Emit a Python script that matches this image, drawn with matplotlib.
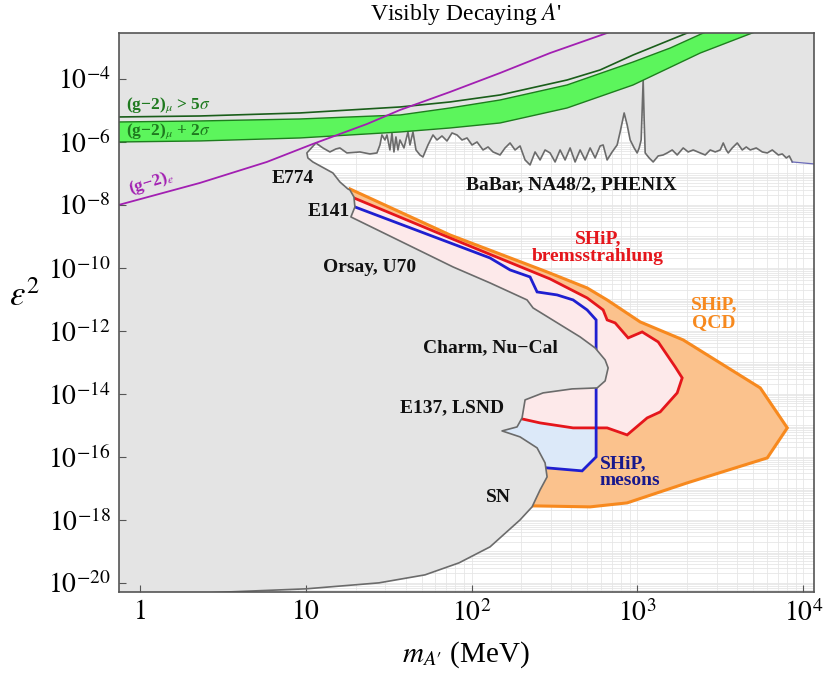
import numpy as np
import matplotlib
matplotlib.use("Agg")
import matplotlib.pyplot as plt
from matplotlib.patches import Polygon
from matplotlib.ticker import NullLocator

plt.rcParams['mathtext.fontset'] = 'stix'
plt.rcParams['font.family'] = ['Liberation Serif', 'DejaVu Serif']

# ---------------- data (log10 of m_A' [MeV] and log10 of eps^2) ----------------
# boundary of the excluded (grey) region: E774, E141, Orsay/U70, Charm/Nu-Cal, E137/LSND, SN
bound_lm = [1.0618, 1.0075, 1.0136, 1.0437, 1.1644, 1.2066, 1.2549, 1.2670, 1.2911, 1.2971,
            1.2730, 1.5686, 1.8884, 2.1116, 2.3348, 2.3710, 2.6546, 2.7451, 2.8054, 2.8235,
            2.8054, 2.7572, 2.6063, 2.4314, 2.3228, 2.3047, 2.2745, 2.1840, 2.2926, 2.3952,
            2.4434, 2.4555, 2.4133, 2.3650, 2.2926, 2.1116, 1.9246, 1.7195, 1.4419, 1.0015,
            0.5430, 0.3017]
bound_le = [-6.032, -6.349, -6.508, -6.635, -6.984, -7.270, -7.492, -7.524, -7.746, -8.063,
            -8.381, -9.143, -9.968, -10.476, -11.016, -11.270, -12.190, -12.540, -12.921, -13.175,
            -13.587, -13.810, -13.841, -13.968, -14.190, -14.762, -15.048, -15.175, -15.365, -15.714,
            -16.190, -16.635, -17.048, -17.587, -18.000, -18.857, -19.365, -19.746, -20.000, -20.190,
            -20.286, -20.349]

# BaBar, NA48/2, PHENIX limit
babar_lm = [1.0618, 1.1041, 1.1463, 1.1825, 1.2066, 1.2489, 1.3273, 1.3876, 1.4299, 1.4480,
            1.4600, 1.4781, 1.4902, 1.5083, 1.5204, 1.5324, 1.5445, 1.5566, 1.5686, 1.5928,
            1.6169, 1.6290, 1.6471, 1.6652, 1.6893, 1.7074, 1.7376, 1.7677, 1.7919, 1.8220,
            1.8522, 1.8824, 1.9125, 1.9427, 1.9729, 2.0030, 2.0332, 2.0694, 2.0996, 2.1297,
            2.1720, 2.2021, 2.2323, 2.2625, 2.2926, 2.3228, 2.3529, 2.3831, 2.4133, 2.4434,
            2.4736, 2.5038, 2.5339, 2.5641, 2.5943, 2.6244, 2.6546, 2.6848, 2.7149, 2.7451,
            2.7753, 2.7934, 2.8175, 2.8477, 2.8778, 2.8959, 2.9201, 2.9382, 2.9563, 2.9804,
            2.9985, 3.0106, 3.0226, 3.0287, 3.0347, 3.0407, 3.0468, 3.0709, 3.0950, 3.1252,
            3.1554, 3.1795, 3.2097, 3.2398, 3.2760, 3.3062, 3.3363, 3.3786, 3.4088, 3.4389,
            3.4691, 3.4993, 3.5174, 3.5355, 3.5475, 3.5716, 3.6018, 3.6320, 3.6561, 3.6802,
            3.7164, 3.7526, 3.7828, 3.8130, 3.8492, 3.8733, 3.8974, 3.9155, 3.9336]
babar_le = [-6.032, -6.190, -6.317, -6.222, -6.190, -6.349, -6.317, -6.381, -6.349, -6.095,
            -5.778, -5.937, -5.778, -6.254, -5.714, -6.317, -5.841, -6.254, -5.937, -6.190,
            -5.683, -6.095, -5.683, -6.254, -6.413, -6.476, -6.095, -5.778, -5.937, -5.810,
            -5.968, -5.714, -5.778, -5.937, -5.873, -6.095, -6.000, -6.254, -6.159, -6.317,
            -6.413, -6.190, -6.032, -6.254, -6.127, -6.571, -6.730, -6.317, -6.571, -6.254,
            -6.349, -6.635, -6.254, -6.571, -6.190, -6.635, -6.254, -6.571, -6.190, -6.508,
            -6.127, -6.095, -6.571, -6.317, -6.095, -5.683, -5.079, -5.460, -5.937, -6.190,
            -6.349, -6.190, -5.937, -4.984, -4.032, -5.302, -6.349, -6.508, -6.635, -6.444,
            -6.413, -6.349, -6.254, -6.413, -6.190, -6.317, -6.254, -6.349, -6.413, -6.254,
            -6.317, -6.254, -6.032, -6.254, -6.349, -6.190, -6.032, -6.254, -6.159, -6.254,
            -6.190, -6.317, -6.349, -6.254, -6.413, -6.381, -6.508, -6.444, -6.635]
babar_tail_lm = [3.9336, 4.0664, 4.2]
babar_tail_le = [-6.635, -6.698, -6.71]

# SHiP, QCD (orange)
qcd_lm = [1.2670, 1.8703, 2.4555, 2.6968, 2.8175, 3.0166, 3.2760, 3.7406, 3.9035, 3.7828,
          3.3002, 2.9382, 2.7149, 2.3831, 2.0513]
qcd_le = [-7.492, -8.952, -10.127, -10.635, -11.016, -11.714, -12.286, -13.810, -15.079, -16.032,
          -16.825, -17.460, -17.587, -17.556, -17.556]

# SHiP, bremsstrahlung (red)
brem_lm = [1.2911, 1.8703, 2.4736, 2.6968, 2.7934, 2.8175, 2.8658, 2.9442, 3.0287, 3.1252,
           3.2278, 3.2700, 3.2398, 3.1373, 3.0588, 2.9382, 2.8175, 2.6124, 2.4133, 2.3047, 2.0513]
brem_le = [-7.778, -9.048, -10.349, -10.952, -11.333, -11.651, -11.746, -12.222, -12.032, -12.349,
           -13.143, -13.492, -13.968, -14.571, -14.762, -15.302, -15.079, -15.079, -14.921, -14.794, -14.571]

# SHiP, mesons (blue)
mes_lm = [1.2971, 2.1116, 2.2323, 2.3529, 2.3952, 2.5159, 2.6124, 2.6968, 2.7511, 2.7511,
          2.6667, 2.4555, 2.1720]
mes_le = [-8.063, -9.683, -10.063, -10.286, -10.762, -10.857, -11.016, -11.333, -11.651, -16.000,
          -16.444, -16.349, -16.254]

# (g-2)_mu bands / lines
g2mu5_lm = [-0.20, -0.127, 0.362, 0.965, 1.569, 1.870, 2.172, 2.576, 2.775, 2.974, 3.137, 3.300, 3.46]
g2mu5_le = [-5.21, -5.206, -5.175, -5.079, -4.889, -4.730, -4.508, -4.032, -3.714, -3.238, -2.889, -2.540, -2.20]
g2mu_up_lm = [-0.20, -0.127, 0.362, 0.965, 1.569, 1.870, 2.172, 2.576, 2.974, 3.198, 3.397, 3.55]
g2mu_up_le = [-5.37, -5.365, -5.333, -5.270, -5.143, -4.921, -4.667, -4.190, -3.460, -3.016, -2.540, -2.20]
g2mu_lo_lm = [-0.20, -0.127, 0.362, 0.965, 1.569, 1.870, 2.172, 2.576, 2.974, 3.379, 3.692, 3.87]
g2mu_lo_le = [-6.01, -6.000, -5.968, -5.873, -5.683, -5.556, -5.397, -4.921, -4.190, -3.175, -2.540, -2.20]
# (g-2)_e
g2e_lm = [-0.20, -0.127, 0.362, 0.766, 1.044, 1.370, 1.569, 1.870, 2.172, 2.474, 2.817, 2.99]
g2e_le = [-8.10, -8.000, -7.302, -6.635, -6.063, -5.429, -4.984, -4.413, -3.810, -3.175, -2.540, -2.20]

x_ticks = [1, 10, 100, 1000, 10000]
x_ticklabels = ['$1$', '$10$', '$10^2$', '$10^3$', '$10^4$']
y_ticks = [10.0 ** e for e in range(-20, -3, 2)]
y_ticklabels = ['$10^{%d}$' % e for e in range(-20, -3, 2)]

# ---------------- figure ----------------
W, H = 824, 675
fig = plt.figure(figsize=(W / 100, H / 100), dpi=100)
L, R, T, B = 119, 814, 33, 592
ax = fig.add_axes([L / W, 1 - B / H, (R - L) / W, (B - T) / H])
ax.set_xscale('log')
ax.set_yscale('log')
xlim = (0.75, 11600)
ylim = (10 ** -20.29, 10 ** -2.54)
ax.set_xlim(*xlim)
ax.set_ylim(*ylim)
ax.set_facecolor('#e4e4e4')


def P(lm, le):
    return np.column_stack([np.power(10.0, np.asarray(lm, float)), np.power(10.0, np.asarray(le, float))])


# allowed (white) region
lo_log = np.log10(ylim[0]) - 0.5
hi_log = np.log10(xlim[1]) + 0.2
allow_lm = list(bound_lm) + [bound_lm[-1], hi_log, hi_log] + list(babar_tail_lm[::-1]) + list(babar_lm[::-1])
allow_le = list(bound_le) + [lo_log, lo_log, babar_tail_le[-1]] + list(babar_tail_le[::-1]) + list(babar_le[::-1])
white = Polygon(P(allow_lm, allow_le), closed=True, facecolor='white', edgecolor='none', zorder=1)
ax.add_patch(white)

# grid only visible in the white region
xg = [k * 10.0 ** n for n in range(-1, 5) for k in range(1, 10)]
xg = [v for v in xg if xlim[0] < v < xlim[1]]
yg = [k * 10.0 ** n for n in range(-21, -2) for k in range(1, 10)]
yg = [v for v in yg if ylim[0] < v < ylim[1]]
gc = '#e6e6e6'
vl = ax.vlines(xg, ylim[0], ylim[1], colors=gc, lw=0.6, zorder=1.5)
hl = ax.hlines(yg, xlim[0], xlim[1], colors=gc, lw=0.6, zorder=1.5)
vl.set_clip_path(white)
hl.set_clip_path(white)


def region(lm, le, fc, ec, zf, zl, lw):
    fill_lm = list(lm) + [lm[0] - 0.3]
    fill_le = list(le) + [le[0]]
    poly = Polygon(P(fill_lm, fill_le), closed=True, facecolor=fc, edgecolor='none', zorder=zf)
    ax.add_patch(poly)
    poly.set_clip_path(white)
    pts = P(lm, le)
    ln, = ax.plot(pts[:, 0], pts[:, 1], color=ec, lw=lw, zorder=zl, solid_joinstyle='miter')
    ln.set_clip_path(white)


region(qcd_lm, qcd_le, '#fbc28d', '#f7891e', 3.0, 4.0, 2.2)
region(mes_lm, mes_le, '#dce9f9', '#1f1fd0', 3.1, 4.2, 2.0)
region(brem_lm, brem_le, '#fde9ea', '#e5161c', 3.2, 4.1, 2.0)

# grey boundary line (BaBar + left exclusion boundary)
gl = P(list(babar_lm[::-1]) + list(bound_lm[1:]), list(babar_le[::-1]) + list(bound_le[1:]))
ax.plot(gl[:, 0], gl[:, 1], color='#6b6b6b', lw=1.2, zorder=5)
tl = P(babar_tail_lm, babar_tail_le)
ax.plot(tl[:, 0], tl[:, 1], color='#6a6ab8', lw=0.9, zorder=5)

# (g-2) bands
up = P(g2mu_up_lm, g2mu_up_le)
lo = P(g2mu_lo_lm, g2mu_lo_le)
band = np.vstack([up, lo[::-1]])
ax.fill(band[:, 0], band[:, 1], facecolor='#5cf55c', edgecolor='none', zorder=6)
ax.plot(up[:, 0], up[:, 1], color='#1e7d1e', lw=1.0, zorder=6.1)
ax.plot(lo[:, 0], lo[:, 1], color='#1e7d1e', lw=1.0, zorder=6.1)
s5 = P(g2mu5_lm, g2mu5_le)
ax.plot(s5[:, 0], s5[:, 1], color='#1a5e1a', lw=1.2, zorder=6.1)
ge = P(g2e_lm, g2e_le)
ax.plot(ge[:, 0], ge[:, 1], color='#a21fb2', lw=1.3, zorder=6.2)

# axes styling
ax.set_xticks(x_ticks)
ax.set_xticklabels(x_ticklabels)
ax.set_yticks(y_ticks)
ax.set_yticklabels(y_ticklabels)
ax.xaxis.set_minor_locator(NullLocator())
ax.yaxis.set_minor_locator(NullLocator())
ax.tick_params(direction='in', length=5, width=0.8, color='#555555', labelsize=20, pad=6,
               top=False, right=False)
for sp in ax.spines.values():
    sp.set_color('#555555')
    sp.set_linewidth(1.2)
    sp.set_zorder(8)


def ft(x, y, s, **kw):
    fig.text(x / W, 1 - y / H, s, ha=kw.pop('ha', 'center'), va=kw.pop('va', 'center'), zorder=10, **kw)


ft(466, 14, "Visibly Decaying $A$'", fontsize=17)
ft(466, 655, r"$m_{A\prime}$ (MeV)", fontsize=21)
ft(25, 298, r"$\varepsilon^2$", fontsize=25)

bold = dict(fontweight='bold', fontsize=14)
ft(293, 178, "E774", color='#111111', **bold)
ft(329, 212, "E141", color='#111111', **bold)
ft(370, 268, "Orsay, U70", color='#111111', **bold)
ft(490, 348, "Charm, Nu\u2212Cal", color='#111111', **bold)
ft(452, 408, "E137, LSND", color='#111111', **bold)
ft(498, 497, "SN", color='#111111', **bold)
ft(571, 185, "BaBar, NA48/2, PHENIX", color='#111111', **bold)
ft(598, 248, "SHiP,\nbremsstrahlung", color='#e5161c', linespacing=1.05, **bold)
ft(714, 314, "SHiP,\nQCD", color='#f7891e', linespacing=1.05, **bold)
ft(600, 472, "SHiP,\nmesons", color='#18188c', linespacing=0.95, ha='left', multialignment='left', **bold)

gbold = dict(fontweight='bold', fontsize=12.5)
ft(168, 105, "(g\u22122)$_\\mu$ > 5$\\sigma$", color='#1f7a1f', **gbold)
ft(168, 131, "(g\u22122)$_\\mu$ + 2$\\sigma$", color='#1f7a1f', **gbold)
ft(151, 183, "(g\u22122)$_e$", color='#a21fb2', rotation=17, **gbold)

fig.savefig('out.png', dpi=100)
